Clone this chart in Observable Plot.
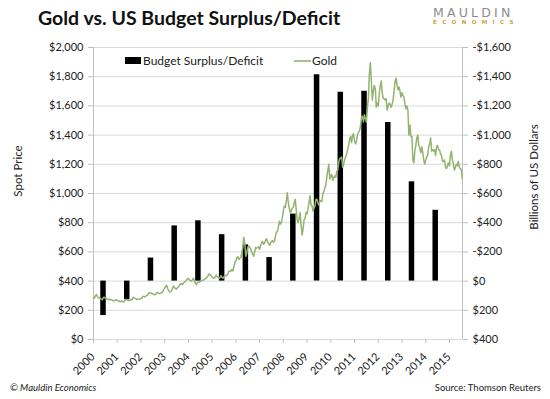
<!DOCTYPE html>
<html><head><meta charset="utf-8">
<script src="https://cdn.jsdelivr.net/npm/d3@7"></script>
<script src="https://cdn.jsdelivr.net/npm/@observablehq/plot@0.6"></script>
<style>
html,body{margin:0;padding:0;background:#fff;}
#chart{position:relative;width:550px;height:399px;overflow:hidden;}
</style>
</head><body>
<div id="chart"></div>
<script>
// ---- data ----
const tickYears = [2000,2001,2002,2003,2004,2005,2006,2007,2008,2009,2010,2011,2012,2013,2014,2015];
const budgetYears = [2000,2001,2002,2003,2004,2005,2006,2007,2008,2009,2010,2011,2012,2013,2014];
// US federal budget surplus (+) / deficit (-), billions of US dollars
const budgetValues = [236,128,-158,-378,-413,-318,-248,-161,-459,-1413,-1294,-1300,-1087,-680,-485];
// Gold spot price, USD/oz, two readings per month (start & middle of month)
const gold2000 = [289,284,300,308,293,285,284,280,276,272,288,289,282,281,276,274,276,272,273,269,264,266,270,273];
const gold2001 = [268,264,264,258,263,262,258,260,268,275,272,268,267,268,274,272,290,286,281,278,274,275,277,277];
const gold2002 = [282,283,295,296,292,297,303,305,320,319,320,315,313,308,306,312,320,322,316,314,318,320,330,342];
const gold2003 = [352,366,372,349,335,326,327,334,355,365,354,348,346,356,360,372,380,384,377,385,393,398,408,416];
const gold2004 = [418,408,403,400,408,420,401,386,376,390,393,393,398,402,405,407,410,416,420,428,440,450,442,437];
const gold2005 = [425,421,420,428,442,428,430,418,425,437,425,420,430,438,436,440,450,469,469,468,480,470,498,525];
const gold2006 = [540,560,566,548,557,561,595,630,700,660,570,590,630,640,630,620,600,585,570,600,630,625,630,635];
const gold2007 = [618,640,663,672,652,661,680,690,668,660,645,660,670,678,667,672,710,735,742,770,810,790,800,835];
const gold2008 = [880,915,905,950,1005,940,900,870,880,900,905,935,960,890,820,800,830,870,780,715,760,820,830,870];
const gold2009 = [860,900,940,985,920,915,880,900,915,960,960,935,920,950,950,945,1000,1010,1040,1060,1110,1160,1200,1100];
const gold2010 = [1120,1130,1090,1110,1120,1110,1150,1160,1210,1240,1240,1250,1180,1200,1230,1250,1270,1300,1330,1370,1390,1350,1400,1410];
const gold2011 = [1360,1340,1360,1400,1420,1430,1460,1520,1530,1490,1540,1510,1490,1590,1650,1820,1895,1770,1640,1700,1740,1720,1590,1620];
const gold2012 = [1600,1680,1740,1770,1690,1650,1650,1640,1650,1570,1600,1620,1610,1590,1610,1640,1700,1770,1790,1740,1710,1730,1700,1660];
const gold2013 = [1690,1670,1660,1610,1580,1600,1570,1400,1470,1390,1390,1230,1210,1290,1330,1380,1400,1330,1310,1280,1320,1280,1230,1200];
const gold2014 = [1230,1250,1260,1320,1340,1380,1290,1300,1290,1300,1260,1320,1330,1300,1300,1270,1260,1220,1220,1230,1180,1170,1190,1210];
const gold2015 = [1190,1260,1290,1230,1200,1160,1180,1200,1190,1220,1180,1170,1165,1100];

const goldByYear = [gold2000,gold2001,gold2002,gold2003,gold2004,gold2005,gold2006,gold2007,gold2008,gold2009,gold2010,gold2011,gold2012,gold2013,gold2014,gold2015];
const gold = goldByYear.flatMap((arr, k) => arr.map((v, i) => ({t: 2000 + k + i / 24, v})));
const budget = budgetYears.map((year, i) => ({year, value: budgetValues[i]}));

// right axis: $0 deficit aligns with $400 on the left; deficits plotted upward
const OFFSET = 400;
const leftTicks = d3.range(0, 2001, 200);
const money = d3.format(",");
const fmtLeft = v => "$" + money(v);
const fmtRight = v => { const r = OFFSET - v; return (r < 0 ? "-$" : "$") + money(Math.abs(r)); };

const FONT = "Lato, 'Open Sans', sans-serif";
const GREEN = "#93b36f";
const AXIS = "#bfbfbf";

const svg = Plot.plot({
  width: 550, height: 399,
  marginTop: 47, marginBottom: 60, marginLeft: 93, marginRight: 88,
  x: {domain: [2000, 2015.55]},
  y: {domain: [0, 2000]},
  style: {fontFamily: FONT, fontSize: "11px", color: "#222", background: "#fff"},
  marks: [
    Plot.gridY(leftTicks, {stroke: "#d9d9d9", strokeOpacity: 1}),
    Plot.ruleX([2000, 2015.55], {stroke: AXIS}),
    Plot.axisY({ticks: leftTicks, tickFormat: fmtLeft, tickSize: 5, tickPadding: 5, stroke: AXIS, label: null}),
    Plot.axisY({anchor: "right", ticks: leftTicks, tickFormat: fmtRight, tickSize: 5, tickPadding: 5, stroke: AXIS, label: null}),
    Plot.axisX({ticks: tickYears, tickSize: 4, tickFormat: () => "", stroke: AXIS, label: null}),
    Plot.text(tickYears, {x: d => d, y: 0, text: d => String(d), rotate: -45, dy: 18, dx: 2, textAnchor: "end", lineAnchor: "bottom", fontSize: 11}),
    Plot.ruleX(budget, {x: d => d.year + 0.4, y1: OFFSET, y2: d => OFFSET - d.value, stroke: "#000", strokeWidth: 5.5}),
    Plot.line(gold, {x: "t", y: "v", stroke: GREEN, strokeWidth: 1.5})
  ]
});
document.getElementById("chart").appendChild(svg);

// titles, legend, labels, footer
const s = d3.select(svg);
const txt = (x, y, str, opts = {}) => {
  const t = s.append("text").attr("x", x).attr("y", y).text(str)
    .attr("font-family", opts.family || FONT).attr("font-size", opts.size || 11)
    .attr("fill", opts.fill || "#222")
    .attr("text-anchor", opts.anchor || "start");
  if (opts.weight) t.attr("font-weight", opts.weight);
  if (opts.style) t.attr("font-style", opts.style);
  if (opts.ls) t.attr("letter-spacing", opts.ls);
  if (opts.transform) t.attr("transform", opts.transform);
  return t;
};
txt(38, 25, "Gold vs. US Budget Surplus/Deficit", {size: 19.5, weight: "bold", fill: "#111"});
txt(433, 17, "MAULDIN", {size: 12.5, fill: "#8c8c8c", ls: 3.2, family: "'DejaVu Sans', sans-serif"});
txt(433, 24, "ECONOMICS", {size: 5.5, fill: "#c9a13a", ls: 5.4, weight: "bold", family: "'DejaVu Sans', sans-serif"});

// legend
s.append("rect").attr("x", 125).attr("y", 57).attr("width", 16).attr("height", 7).attr("fill", "#000");
txt(143, 65, "Budget Surplus/Deficit", {size: 12});
s.append("line").attr("x1", 294).attr("x2", 311).attr("y1", 61).attr("y2", 61).attr("stroke", GREEN).attr("stroke-width", 1.6);
txt(312, 65, "Gold", {size: 12});

// axis titles
txt(0, 0, "Spot Price", {size: 11.5, anchor: "middle", transform: "translate(22,171) rotate(-90)"});
txt(0, 0, "Billions of US Dollars", {size: 11.5, anchor: "middle", transform: "translate(538,177) rotate(-90)"});

// footer
txt(10, 391, "© Mauldin Economics", {size: 9.5, style: "italic"});
txt(541, 391, "Source: Thomson Reuters", {size: 9.5, anchor: "end"});
</script>
</body></html>
